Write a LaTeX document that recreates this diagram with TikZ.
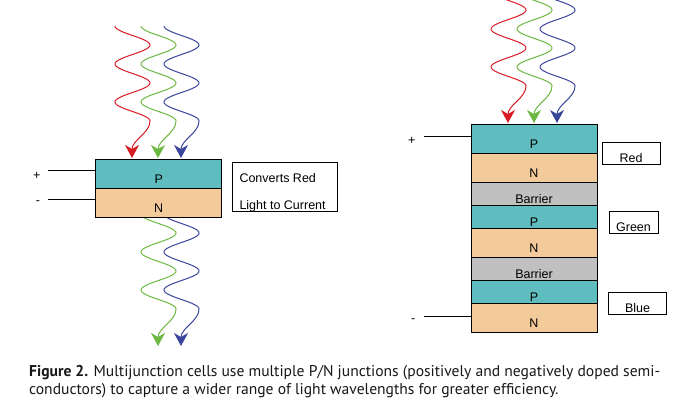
\documentclass[tikz,border=0pt]{standalone}
\usepackage{fontspec}
\setmainfont{Liberation Sans}
\newfontfamily\capfont{PT Sans}
\usetikzlibrary{arrows.meta}
\definecolor{rayred}{RGB}{215,28,36}
\definecolor{raygreen}{RGB}{108,184,66}
\definecolor{rayblue}{RGB}{58,70,155}
\definecolor{pcol}{RGB}{95,189,191}
\definecolor{ncol}{RGB}{243,203,155}
\definecolor{bcol}{RGB}{192,192,192}
\definecolor{captxt}{RGB}{25,22,23}
\newcommand\lightray[3]{%
  \draw[ray,#1] plot[domain=0:900,samples=100,variable=\t]
    ({#2+17.5*(1-cos(\t))},{#3+\t/180*19})
    .. controls ({#2+35},{#3+107}) and ({#2+17},{#3+114}) .. ({#2+17},{#3+132});
}
\tikzset{
  ray/.style={line width=1pt,-{Stealth[length=13pt,width=14pt,inset=4pt]}},
  dfont/.style={font=\fontsize{12.5}{14}\selectfont},
  layer/.style={draw=black,line width=0.9pt,minimum width=126pt,inner sep=0pt,outer sep=0pt,anchor=north,dfont},
  tall/.style={layer,minimum height=29pt,label={[anchor=base,yshift=4.6pt,dfont]south:#1}},
  short/.style={layer,minimum height=23pt,label={[anchor=base,yshift=1.8pt,dfont]south:#1}},
  ptall/.style={tall=#1,fill=pcol},
  ntall/.style={tall=#1,fill=ncol},
  pshort/.style={short=#1,fill=pcol},
  bshort/.style={short=#1,fill=bcol},
  tag/.style={draw=black,line width=0.9pt,inner sep=0pt,outer sep=0pt,minimum height=22pt,label={[anchor=base,yshift=1.4pt,dfont]south:#1}},
  wire/.style={line width=0.9pt},
  sign/.style={dfont,inner sep=0pt},
  txt/.style={dfont,inner sep=0pt,anchor=base west},
}
\begin{document}
\begin{tikzpicture}[x=1pt,y=-1pt]
\path[use as bounding box] (0,0) rectangle (684,414);
% ---- left cell: rays passing through (behind boxes)
\lightray{raygreen}{141}{214}
\lightray{rayblue}{164}{214}
% left cell layers
\node[ptall=P,minimum width=126pt] (lp) at (158.7,159.3) {};
\node[ntall=N] (ln) at (lp.south) {};
% incoming rays
\lightray{rayred}{115}{26}
\lightray{raygreen}{141}{26}
\lightray{rayblue}{164}{26}
% wires
\coordinate (lplus) at (48,170.3);
\coordinate (lminus) at (48,199.3);
\draw[wire] (lplus) -- (lp.west |- lplus);
\draw[wire] (lminus) -- (ln.west |- lminus);
\node[sign] (lps) at (36.7,175.7) {+};
\node[sign] (lms) at (38,203) {-};
% text box
\node[draw=black,line width=0.9pt,inner sep=0pt,minimum width=104.6pt,minimum height=48.3pt] (conv) at (285,186.85) {};
\node[txt] (conv1) at (239.3,182.7) {Converts Red};
\node[txt] (conv2) at (239.3,209.3) {Light to Current};
% ---- right cell
\node[ptall=P] (r1) at (534,124.3) {};
\node[ntall=N] (r2) at (r1.south) {};
\node[bshort=Barrier] (r3) at (r2.south) {};
\node[pshort=P] (r4) at (r3.south) {};
\node[ntall=N] (r5) at (r4.south) {};
\node[bshort=Barrier] (r6) at (r5.south) {};
\node[pshort=P] (r7) at (r6.south) {};
\node[ntall=N] (r8) at (r7.south) {};
\begin{scope}
\clip (0,0) rectangle (684,414);
\lightray{rayred}{491}{-9}
\lightray{raygreen}{517}{-9}
\lightray{rayblue}{540}{-9}
\end{scope}
\coordinate (rplus) at (424,136.3);
\coordinate (rminus) at (424,316.7);
\draw[wire] (rplus) -- (r1.west |- rplus);
\draw[wire] (rminus) -- (r8.west |- rminus);
\node[sign] (rps) at (411.7,140.7) {+};
\node[sign] (rms) at (413.3,321) {-};
\node[tag=Red,minimum width=58pt] (tred) at (631,153.2) {};
\node[tag=Green,minimum width=49pt] (tgreen) at (633.5,222.2) {};
\node[tag=Blue,minimum width=58.4pt] (tblue) at (637.5,303.3) {};
% ---- caption
\node[anchor=base west,inner sep=0pt,align=left,text=captxt,font=\capfont\fontsize{15.6}{18}\selectfont] (cap) at (29,394)
  {{\bfseries Figure 2.} Multijunction cells use multiple P/N junctions (positively and negatively doped semi-\\conductors) to capture a wider range of light wavelengths for greater efficiency.};
\end{tikzpicture}
\end{document}
